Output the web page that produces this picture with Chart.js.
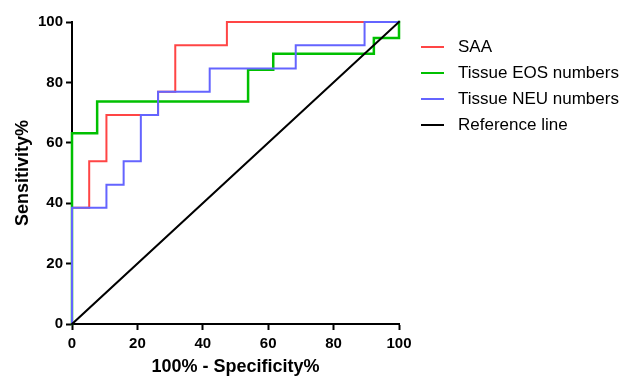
<!DOCTYPE html>
<html>
<head>
<meta charset="utf-8">
<script src="https://cdn.jsdelivr.net/npm/chart.js@4/dist/chart.umd.min.js"></script>
<style>
  html, body { margin: 0; padding: 0; background: #fff; }
  #wrap { position: relative; width: 626px; height: 376px; }
  #legend { position: absolute; left: 421px; top: 0; font-family: "Liberation Sans", Arial, sans-serif; font-size: 17px; color: #000; }
  .row { position: absolute; left: 0; height: 20px; white-space: nowrap; }
  .sw { position: absolute; left: 0; top: 9px; width: 23px; height: 2px; }
  .lb { position: absolute; left: 37px; top: 0; line-height: 20px; }
</style>
</head>
<body>
<div id="wrap">
  <canvas id="c" width="626" height="376"></canvas>
  <div id="legend"></div>
</div>
<script>
// ROC points (100% - Specificity%, Sensitivity%)
const saaX = [0, 0, 5.26, 10.53, 26.32, 31.58, 47.37, 100];
const saaY = [0, 38.46, 53.85, 69.23, 76.92, 92.31, 100, 100];

const eosX = [0, 0, 7.69, 53.85, 61.54, 92.31, 100];
const eosY = [0, 63.16, 73.68, 84.21, 89.47, 94.74, 100];

const neuX = [0, 0, 10.53, 15.79, 21.05, 26.32, 42.11, 68.42, 89.47, 100];
const neuY = [0, 38.46, 46.15, 53.85, 69.23, 76.92, 84.62, 92.31, 100, 100];

const refX = [0, 100];
const refY = [0, 100];

const seriesNames = ["SAA", "Tissue EOS numbers", "Tissue NEU numbers", "Reference line"];
const seriesColors = ["#FF4545", "#00C000", "#6464FF", "#000000"];

const xTicks = [0, 20, 40, 60, 80, 100];
const yTicks = [0, 20, 40, 60, 80, 100];
const xTitle = "100% - Specificity%";
const yTitle = "Sensitivity%";

const pts = (xs, ys) => xs.map((x, i) => ({ x: x, y: ys[i] }));

const FONT = '"Liberation Sans", Arial, sans-serif';

const datasets = [
  { label: seriesNames[0], data: pts(saaX, saaY), borderColor: seriesColors[0], borderWidth: 2, stepped: 'before', order: 4 },
  { label: seriesNames[1], data: pts(eosX, eosY), borderColor: seriesColors[1], borderWidth: 2.5, stepped: 'before', order: 3 },
  { label: seriesNames[2], data: pts(neuX, neuY), borderColor: seriesColors[2], borderWidth: 2, stepped: 'before', order: 2 },
  { label: seriesNames[3], data: pts(refX, refY), borderColor: seriesColors[3], borderWidth: 2, order: 1 }
].map(d => Object.assign({ pointRadius: 0, fill: false, tension: 0, clip: false, borderCapStyle: 'square', borderJoinStyle: 'miter' }, d));

function axis(title, ticks, isX) {
  return {
    type: 'linear',
    min: 0, max: 100,
    afterBuildTicks: s => { s.ticks = ticks.map(v => ({ value: v })); },
    afterFit: s => { if (isX) s.height = 52; else s.width = 72; },
    ticks: { color: '#000', font: { family: FONT, size: 15, weight: 'bold' }, padding: isX ? 5 : 3 },
    grid: { display: true, drawOnChartArea: false, drawTicks: true, tickLength: 6, tickColor: '#000', tickWidth: 2 },
    border: { display: true, color: '#000', width: 2 },
    title: { display: true, text: title, color: '#000', font: { family: FONT, size: 18, weight: 'bold', lineHeight: 1 }, padding: isX ? { top: 0, bottom: 0 } : { top: 14, bottom: 0 } }
  };
}

new Chart(document.getElementById('c'), {
  type: 'line',
  data: { datasets: datasets },
  options: {
    responsive: false,
    animation: false,
    layout: { padding: { top: 22, right: 227, left: 0, bottom: 0 } },
    plugins: { legend: { display: false }, tooltip: { enabled: false } },
    scales: { x: axis(xTitle, xTicks, true), y: axis(yTitle, yTicks, false) }
  }
});

// legend as real text
const legendTops = [37, 63, 89, 115];
const lg = document.getElementById('legend');
seriesNames.forEach((n, i) => {
  const r = document.createElement('div');
  r.className = 'row';
  r.style.top = legendTops[i] + 'px';
  const sw = document.createElement('div');
  sw.className = 'sw';
  sw.style.background = seriesColors[i];
  const lb = document.createElement('div');
  lb.className = 'lb';
  lb.textContent = n;
  r.appendChild(sw); r.appendChild(lb);
  lg.appendChild(r);
});
</script>
</body>
</html>
